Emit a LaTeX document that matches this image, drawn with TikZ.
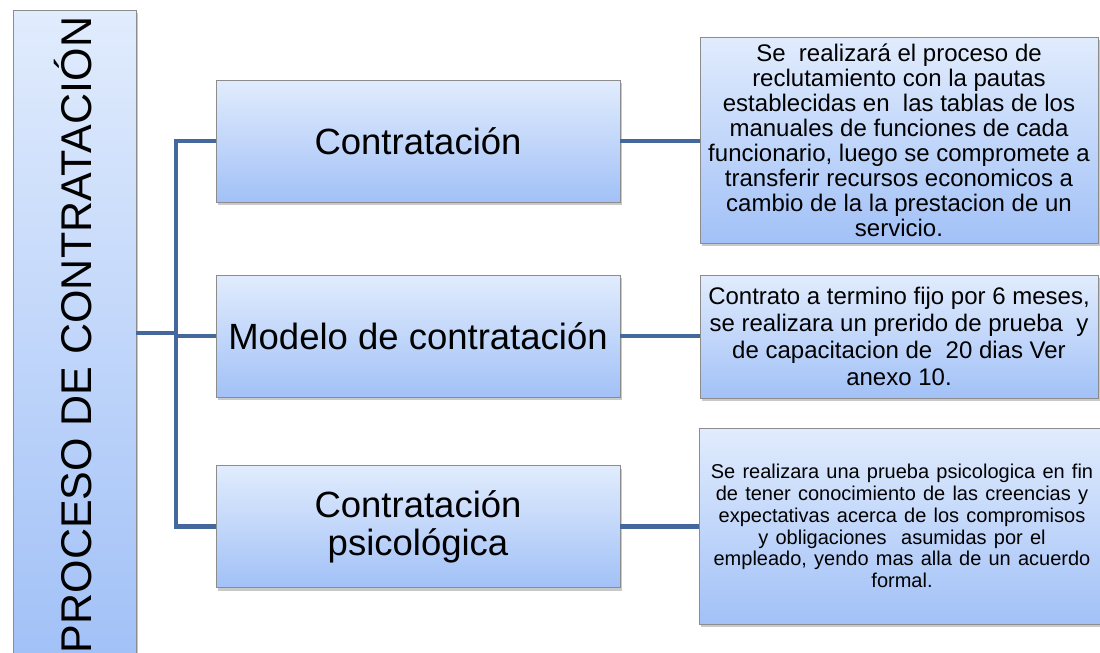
\documentclass[tikz,border=0pt]{standalone}
\usepackage{fontspec}
\setmainfont{Liberation Sans}
\usepackage{tikz}
\usetikzlibrary{positioning, calc, shadows}
\definecolor{BoxTop}{HTML}{E1ECFD}
\definecolor{BoxBottom}{HTML}{A2C1F7}
\definecolor{BoxBorder}{HTML}{8C8C8C}
\definecolor{LinkBlue}{HTML}{44689C}
\newcommand{\widegaps}{\spaceskip=0.36em plus 0.1em\relax}

\begin{document}
\begin{tikzpicture}[x=1pt, y=-1pt,
    blockbox/.style={draw=BoxBorder, line width=0.9pt, top color=BoxTop, bottom color=BoxBottom,
        drop shadow={shadow xshift=2pt, shadow yshift=-3pt, opacity=0.3, fill=black!70},
        inner sep=2pt, align=center, text=black},
    stagebox/.style={blockbox, minimum width=404pt, minimum height=122pt,
        font=\fontsize{36.5}{38}\selectfont},
    notebox/.style={blockbox, minimum width=398pt, font=\fontsize{24}{25}\selectfont},
    link/.style={draw=LinkBlue, line width=4.5pt, line join=miter}]
    % Frame of the 1100x653 page
    \useasboundingbox (0,0) rectangle (1100,653);

    % Left title column
    \node[blockbox, minimum width=123pt, minimum height=646pt] (proc) at (74.5,333) {};
    \node[rotate=90, font=\fontsize{43}{45}\selectfont] (proctitle) at (73,335) {PROCESO DE CONTRATACIÓN};

    % Middle stages
    \node[stagebox] (contr) at (418,141) {Contratación};
    \node[stagebox] (modelo) at (418,336) {Modelo de contratación};
    \node[stagebox] (psico) at (418,526.5) {Contratación\\psicológica};

    % Right descriptions
    \node[notebox, minimum height=206pt] (desc1) at (899,140)
        {Se \ realizará el proceso de\\reclutamiento con la pautas\\establecidas en \ las tablas de los\\
         manuales de funciones de cada\\funcionario, luego se compromete a\\transferir recursos economicos a\\
         cambio de la la prestacion de un\\servicio.};
    \node[notebox, minimum height=123pt, font=\fontsize{24}{26.8}\selectfont] (desc2) at (899,336.5)
        {Contrato a termino fijo por 6 meses,\\se realizara un prerido de prueba \ y\\de capacitacion de \ 20 dias Ver\\anexo 10.};
    \node[notebox, minimum width=406pt, minimum height=196pt,
        font=\fontsize{20}{21.8}\selectfont] (desc3) at (902,526)
        {\widegaps Se realizara una prueba psicologica en fin\\\widegaps de tener conocimiento de las creencias y\\
         \widegaps expectativas acerca de los compromisos\\\widegaps y obligaciones \ asumidas por el\\
         \widegaps empleado, yendo mas alla de un acuerdo\\formal.};

    % Tree connectors
    \coordinate (trunk) at (176,333);
    \draw[link] (proc.east) -- (trunk);
    \draw[link] (contr.west) -| (trunk) |- (psico.west);
    \draw[link] (trunk |- modelo.west) -- (modelo.west);

    % Stage to description
    \draw[link] (contr.east) -- (contr.east -| desc1.west);
    \draw[link] (modelo.east) -- (modelo.east -| desc2.west);
    \draw[link] (psico.east) -- (psico.east -| desc3.west);
\end{tikzpicture}
\end{document}
